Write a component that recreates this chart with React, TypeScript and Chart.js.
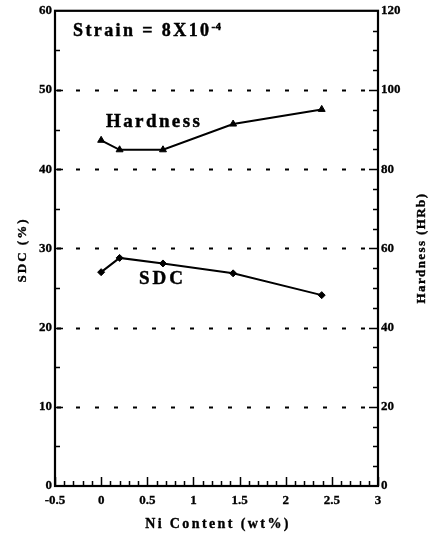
import React, { useEffect, useRef } from "react";
import { Chart, registerables } from "chart.js";

Chart.register(...registerables);

const niContent = [0, 0.2, 0.67, 1.43, 2.39];
const hardness = [87.3, 84.9, 84.9, 91.4, 95.1];
const sdc = [27.0, 28.8, 28.1, 26.85, 24.1];
const xTickValues = [-0.5, 0, 0.5, 1, 1.5, 2, 2.5, 3];
const gridValues = [10, 20, 30, 40, 50];

const FONT = '"Liberation Serif", "DejaVu Serif", serif';

function spaced(ctx: any, px: number) {
  ctx.letterSpacing = px + "px";
}

function heavyText(ctx: any, text: string, x: number, y: number) {
  ctx.fillText(text, x, y);
  ctx.strokeText(text, x, y);
}

const decorPlugin = {
  id: "decor",
  beforeDraw(chart: any) {
    const ctx = chart.ctx;
    ctx.save();
    ctx.fillStyle = "#fff";
    ctx.fillRect(0, 0, chart.width, chart.height);
    ctx.restore();
  },
  beforeDatasetsDraw(chart: any) {
    const { ctx, chartArea } = chart;
    const y = chart.scales.y;
    ctx.save();
    ctx.strokeStyle = "#000";
    ctx.lineWidth = 1.8;
    ctx.setLineDash([4, 15]);
    ctx.lineDashOffset = -2;
    for (const v of gridValues) {
      const py = Math.round(y.getPixelForValue(v)) + 0.5;
      ctx.beginPath();
      ctx.moveTo(chartArea.left, py);
      ctx.lineTo(chartArea.right, py);
      ctx.stroke();
    }
    ctx.restore();
  },
  afterDraw(chart: any) {
    const { ctx, chartArea } = chart;
    const { left, right, top, bottom } = chartArea;
    const xs = chart.scales.x;
    const ys = chart.scales.y;
    const y2 = chart.scales.y2;
    ctx.save();
    ctx.strokeStyle = "#000";
    ctx.lineWidth = 2.2;
    ctx.setLineDash([]);
    ctx.strokeRect(left, top, right - left, bottom - top);

    ctx.lineWidth = 1.5;
    ctx.beginPath();
    for (let k = -5; k <= 30; k++) {
      const px = Math.round(xs.getPixelForValue(k / 10)) + 0.5;
      const len = k % 5 === 0 ? 9 : 5;
      ctx.moveTo(px, bottom);
      ctx.lineTo(px, bottom - len);
    }
    for (let v = 5; v < 60; v += 5) {
      const py = Math.round(ys.getPixelForValue(v)) + 0.5;
      const len = v % 10 === 0 ? 8 : 5;
      ctx.moveTo(left, py);
      ctx.lineTo(left + len, py);
    }
    for (let v = 5; v < 120; v += 5) {
      const py = Math.round(y2.getPixelForValue(v)) + 0.5;
      const len = v % 20 === 0 ? 9 : 5;
      ctx.moveTo(right, py);
      ctx.lineTo(right - len, py);
    }
    ctx.stroke();

    ctx.fillStyle = "#000";
    ctx.lineWidth = 0.45;
    ctx.textAlign = "left";
    ctx.textBaseline = "alphabetic";
    ctx.font = `bold 18px ${FONT}`;
    spaced(ctx, 2.4);
    const main = "Strain = 8X10";
    heavyText(ctx, main, 73, 36);
    const w = ctx.measureText(main).width;
    ctx.font = `bold 11px ${FONT}`;
    spaced(ctx, 0.5);
    heavyText(ctx, "-4", 73 + w, 30);

    ctx.font = `bold 19px ${FONT}`;
    spaced(ctx, 2.4);
    heavyText(ctx, "Hardness", 106, 127);
    spaced(ctx, 3);
    heavyText(ctx, "SDC", 139, 284);

    ctx.textAlign = "center";
    ctx.textBaseline = "middle";
    ctx.font = `bold 14px ${FONT}`;
    spaced(ctx, 2.4);
    ctx.lineWidth = 0.35;
    heavyText(ctx, "Ni Content (wt%)", 218, 524);

    ctx.font = `bold 13px ${FONT}`;
    ctx.save();
    ctx.translate(23, 250);
    ctx.rotate(-Math.PI / 2);
    spaced(ctx, 2);
    heavyText(ctx, "SDC (%)", 0, 0);
    ctx.restore();

    ctx.save();
    ctx.translate(422, 248);
    ctx.rotate(-Math.PI / 2);
    spaced(ctx, 1.4);
    heavyText(ctx, "Hardness (HRb)", 0, 0);
    ctx.restore();

    ctx.restore();
  },
};

export default function App() {
  const ref = useRef<HTMLCanvasElement | null>(null);

  useEffect(() => {
    if (!ref.current) return;
    const tickFont = { family: FONT, size: 13, weight: "bold" as const };
    const tickCommon = {
      color: "#000",
      font: tickFont,
      textStrokeColor: "#000",
      textStrokeWidth: 0.3,
    };
    const chart = new Chart(ref.current, {
      type: "line",
      data: {
        datasets: [
          {
            label: "Hardness",
            data: niContent.map((x, i) => ({ x, y: hardness[i] })),
            yAxisID: "y2",
            borderColor: "#000",
            backgroundColor: "#000",
            borderWidth: 2,
            pointStyle: "triangle",
            pointRadius: 4,
            pointBorderWidth: 1,
            tension: 0,
          },
          {
            label: "SDC",
            data: niContent.map((x, i) => ({ x, y: sdc[i] })),
            yAxisID: "y",
            borderColor: "#000",
            backgroundColor: "#000",
            borderWidth: 2,
            pointStyle: "rectRot",
            pointRadius: 3.5,
            pointBorderWidth: 1,
            tension: 0,
          },
        ],
      },
      options: {
        responsive: false,
        animation: false,
        layout: { padding: { top: 8, left: 0, right: 0, bottom: 0 } },
        plugins: {
          legend: { display: false },
          tooltip: { enabled: false },
          title: { display: false },
        },
        scales: {
          x: {
            type: "linear",
            min: -0.5,
            max: 3,
            afterBuildTicks: (s: any) => {
              s.ticks = xTickValues.map((v) => ({ value: v }));
            },
            afterFit: (s: any) => {
              s.height = 51;
            },
            ticks: {
              ...tickCommon,
              padding: 7,
              maxRotation: 0,
              autoSkip: false,
              callback: (v: any) => String(v),
            },
            grid: { display: false, drawTicks: false },
            border: { display: false },
          },
          y: {
            type: "linear",
            position: "left",
            min: 0,
            max: 60,
            ticks: { ...tickCommon, stepSize: 10, padding: 3 },
            afterFit: (s: any) => {
              s.width = 55;
            },
            grid: { display: false, drawTicks: false },
            border: { display: false },
          },
          y2: {
            type: "linear",
            position: "right",
            min: 0,
            max: 120,
            ticks: { ...tickCommon, stepSize: 20, padding: 3 },
            afterFit: (s: any) => {
              s.width = 53;
            },
            grid: { display: false, drawTicks: false },
            border: { display: false },
          },
        },
      },
      plugins: [decorPlugin],
    });
    let alive = true;
    const fonts: any = (document as any).fonts;
    if (fonts && fonts.load) {
      Promise.all([
        fonts.load('bold 13px "Liberation Serif"'),
        fonts.load('bold 19px "Liberation Serif"'),
      ])
        .catch(() => null)
        .then(() => {
          if (alive) chart.update();
        });
    }
    return () => {
      alive = false;
      chart.destroy();
    };
  }, []);

  return (
    <div style={{ position: "absolute", left: 0, top: 0, width: 431, height: 537, background: "#fff" }}>
      <canvas ref={ref} width={431} height={537} style={{ display: "block" }} />
    </div>
  );
}
